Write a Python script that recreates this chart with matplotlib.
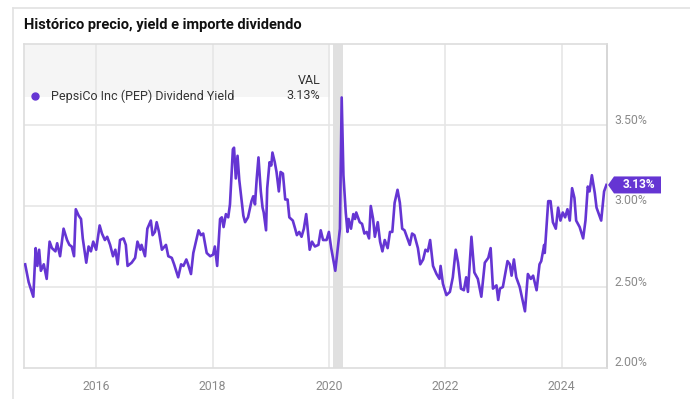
import matplotlib
matplotlib.use("Agg")
import matplotlib.pyplot as plt
import matplotlib.transforms as mtransforms
from matplotlib.patches import Polygon, Rectangle
from matplotlib.lines import Line2D

plt.rcParams['font.family'] = ['Roboto', 'DejaVu Sans']

# PepsiCo dividend yield (%); dates as decimal years
dates = [
    2014.78, 2014.84, 2014.92, 2014.96, 2014.99, 2015.02, 2015.05, 2015.10, 2015.15, 2015.20,
    2015.24, 2015.30, 2015.33, 2015.38, 2015.44, 2015.50, 2015.54, 2015.58, 2015.62, 2015.65,
    2015.70, 2015.74, 2015.77, 2015.83, 2015.87, 2015.91, 2015.95, 2016.00, 2016.06, 2016.10,
    2016.15, 2016.19, 2016.24, 2016.29, 2016.33, 2016.37, 2016.41, 2016.47, 2016.51, 2016.54,
    2016.61, 2016.67, 2016.71, 2016.76, 2016.78, 2016.84, 2016.88, 2016.94, 2016.97, 2017.01,
    2017.04, 2017.08, 2017.13, 2017.20, 2017.24, 2017.30, 2017.34, 2017.41, 2017.46, 2017.50,
    2017.55, 2017.58, 2017.63, 2017.67, 2017.76, 2017.80, 2017.84, 2017.90, 2017.96, 2018.01,
    2018.04, 2018.08, 2018.13, 2018.16, 2018.19, 2018.23, 2018.27, 2018.30, 2018.35, 2018.37,
    2018.40, 2018.43, 2018.46, 2018.53, 2018.56, 2018.61, 2018.67, 2018.70, 2018.73, 2018.76,
    2018.79, 2018.83, 2018.86, 2018.88, 2018.92, 2018.94, 2018.98, 2019.01, 2019.03, 2019.07,
    2019.10, 2019.14, 2019.17, 2019.21, 2019.25, 2019.29, 2019.32, 2019.38, 2019.42, 2019.45,
    2019.49, 2019.53, 2019.57, 2019.61, 2019.63, 2019.67, 2019.71, 2019.76, 2019.82, 2019.86,
    2019.90, 2019.96, 2020.00, 2020.04, 2020.11, 2020.16, 2020.19, 2020.22, 2020.25, 2020.29,
    2020.32, 2020.34, 2020.38, 2020.42, 2020.45, 2020.47, 2020.53, 2020.57, 2020.61, 2020.65,
    2020.69, 2020.72, 2020.76, 2020.79, 2020.84, 2020.88, 2020.92, 2020.96, 2021.01, 2021.05,
    2021.09, 2021.13, 2021.18, 2021.22, 2021.26, 2021.30, 2021.33, 2021.39, 2021.43, 2021.47,
    2021.53, 2021.57, 2021.62, 2021.66, 2021.70, 2021.74, 2021.79, 2021.85, 2021.90, 2021.92,
    2021.96, 2022.02, 2022.08, 2022.13, 2022.18, 2022.22, 2022.27, 2022.32, 2022.36, 2022.39,
    2022.45, 2022.50, 2022.56, 2022.62, 2022.68, 2022.74, 2022.78, 2022.82, 2022.88, 2022.91,
    2022.94, 2022.99, 2023.07, 2023.11, 2023.14, 2023.18, 2023.22, 2023.28, 2023.37, 2023.42,
    2023.47, 2023.51, 2023.57, 2023.62, 2023.65, 2023.70, 2023.71, 2023.77, 2023.81, 2023.85,
    2023.90, 2023.94, 2023.98, 2024.02, 2024.06, 2024.10, 2024.14, 2024.18, 2024.22, 2024.25,
    2024.31, 2024.37, 2024.41, 2024.45, 2024.48, 2024.52, 2024.57, 2024.60, 2024.64, 2024.68,
    2024.73, 2024.77,
]
yield_pct = [
    2.64, 2.53, 2.44, 2.74, 2.63, 2.73, 2.60, 2.64, 2.55, 2.78,
    2.74, 2.72, 2.77, 2.69, 2.86, 2.79, 2.76, 2.75, 2.69, 2.98,
    2.94, 2.92, 2.80, 2.65, 2.75, 2.72, 2.78, 2.73, 2.88, 2.83,
    2.79, 2.81, 2.76, 2.69, 2.73, 2.64, 2.79, 2.80, 2.76, 2.63,
    2.65, 2.68, 2.78, 2.73, 2.76, 2.69, 2.86, 2.91, 2.82, 2.84,
    2.90, 2.84, 2.73, 2.76, 2.69, 2.68, 2.64, 2.56, 2.64, 2.63,
    2.67, 2.64, 2.58, 2.71, 2.85, 2.82, 2.83, 2.71, 2.69, 2.70,
    2.75, 2.63, 2.92, 2.93, 2.87, 2.95, 2.93, 3.01, 3.35, 3.36,
    3.17, 3.31, 3.16, 2.94, 2.90, 2.93, 3.03, 3.06, 3.01, 3.17,
    3.30, 3.09, 2.99, 2.96, 2.85, 3.11, 3.27, 3.25, 3.33, 3.27,
    3.21, 3.09, 3.21, 3.20, 3.04, 3.04, 2.93, 2.91, 2.86, 2.82,
    2.84, 2.81, 2.86, 2.95, 2.88, 2.73, 2.78, 2.75, 2.76, 2.85,
    2.79, 2.79, 2.84, 2.74, 2.60, 2.76, 2.86, 3.67, 3.19, 2.96,
    2.84, 2.92, 2.86, 2.95, 2.92, 2.96, 2.90, 2.89, 2.83, 2.84,
    2.80, 3.00, 2.92, 2.81, 2.90, 2.78, 2.72, 2.79, 2.74, 2.84,
    2.84, 3.02, 3.10, 3.02, 2.86, 2.85, 2.82, 2.76, 2.83, 2.82,
    2.74, 2.64, 2.67, 2.73, 2.72, 2.79, 2.63, 2.58, 2.55, 2.63,
    2.52, 2.45, 2.47, 2.56, 2.73, 2.65, 2.49, 2.48, 2.56, 2.47,
    2.81, 2.59, 2.55, 2.44, 2.65, 2.68, 2.74, 2.49, 2.51, 2.42,
    2.49, 2.50, 2.66, 2.64, 2.57, 2.67, 2.56, 2.50, 2.35, 2.58,
    2.55, 2.57, 2.48, 2.64, 2.66, 2.76, 2.71, 3.03, 3.03, 2.90,
    2.86, 2.99, 2.91, 2.96, 2.93, 2.98, 2.91, 3.11, 3.05, 2.91,
    2.87, 2.80, 2.91, 3.12, 3.09, 3.19, 3.08, 2.99, 2.95, 2.91,
    3.09, 3.13,
]
x_ticks = [2016, 2018, 2020, 2022, 2024]
y_ticks = [2.0, 2.5, 3.0, 3.5]
recession = (2020.07, 2020.24)
series_name = "PepsiCo Inc (PEP) Dividend Yield"
last_val = 3.13

purple = '#6535d3'
grid_c = '#e6e6e6'
label_c = '#8a8a8a'

fig = plt.figure(figsize=(6.9, 3.99), dpi=100)
ax = fig.add_axes([24 / 690, 1 - 368 / 399, (607 - 24) / 690, (368 - 44) / 399])

ax.set_xlim(2014.76, 2024.78)
ax.set_ylim(2.0, 4.0)

# recession shading
ax.axvspan(recession[0], recession[1], color='#e0e0e0', lw=0, zorder=1)

# legend panel (top-left)
ax.add_patch(Rectangle((0, 0.835), (330 - 24) / 583, 0.165, transform=ax.transAxes,
                       facecolor='#f5f5f5', edgecolor='none', zorder=0.5))

ax.set_xticks(x_ticks)
ax.set_xticklabels([str(t) for t in x_ticks])
ax.set_yticks([])
for v in y_ticks[1:]:
    ax.axhline(v, color=grid_c, lw=1.2, zorder=0.8)
for t in x_ticks:
    ax.axvline(t, color=grid_c, lw=1.2, zorder=0.8)

ax.plot(dates, yield_pct, color=purple, lw=1.9, zorder=3, solid_joinstyle='round')

for s in ax.spines.values():
    s.set_color('#dddddd')
    s.set_linewidth(1.2)
ax.spines['right'].set_color('#cfcfcf')
ax.tick_params(axis='x', length=0, pad=9, labelsize=8.8, labelcolor=label_c)

# right-hand y labels, sitting just above their grid lines
shift = mtransforms.ScaledTranslation(0, 0.05, fig.dpi_scale_trans)
for v in y_ticks:
    ax.text(1.013, v, f"{v:.2f}%", transform=ax.get_yaxis_transform() + shift,
            ha='left', va='center', fontsize=8.8, color=label_c)

# legend content
ax.plot([0.019], [0.84], transform=ax.transAxes, marker='o', ms=5, color=purple,
        ls='none', zorder=4, clip_on=False)
ax.text(0.046, 0.84, series_name, transform=ax.transAxes, ha='left', va='center',
        fontsize=9, color='#333333')
ax.text(0.508, 0.886, "VAL", transform=ax.transAxes, ha='right', va='center',
        fontsize=9, color='#333333')
ax.text(0.508, 0.84, f"{last_val:.2f}%", transform=ax.transAxes, ha='right', va='center',
        fontsize=9, color='#333333')

# last value flag on the right axis
fig.canvas.draw()
tx, ty = ax.transData.transform((ax.get_xlim()[1], last_val))
tx += 1
h = 8.5
flag = Polygon([(tx, ty), (tx + 6, ty + h), (tx + 53, ty + h), (tx + 53, ty - h), (tx + 6, ty - h)],
               closed=True, transform=None, facecolor=purple, edgecolor='none', zorder=5)
fig.add_artist(flag)
fig.text((tx + 31) / 690, ty / 399, f"{last_val:.2f}%", ha='center', va='center',
         fontsize=8.6, fontweight='bold', color='white', zorder=6)

# title and card outline
fig.text(24 / 690, 1 - 25 / 399, "Histórico precio, yield e importe dividendo",
         ha='left', va='center', fontsize=10.5, fontweight='bold', color='#111111')
fig.add_artist(Line2D([13 / 690, 1], [1 - 8 / 399] * 2, color='#e2e2e2', lw=1.2))
fig.add_artist(Line2D([13 / 690] * 2, [0, 1 - 8 / 399], color='#e2e2e2', lw=1.2))

fig.savefig('out.png', dpi=100)
